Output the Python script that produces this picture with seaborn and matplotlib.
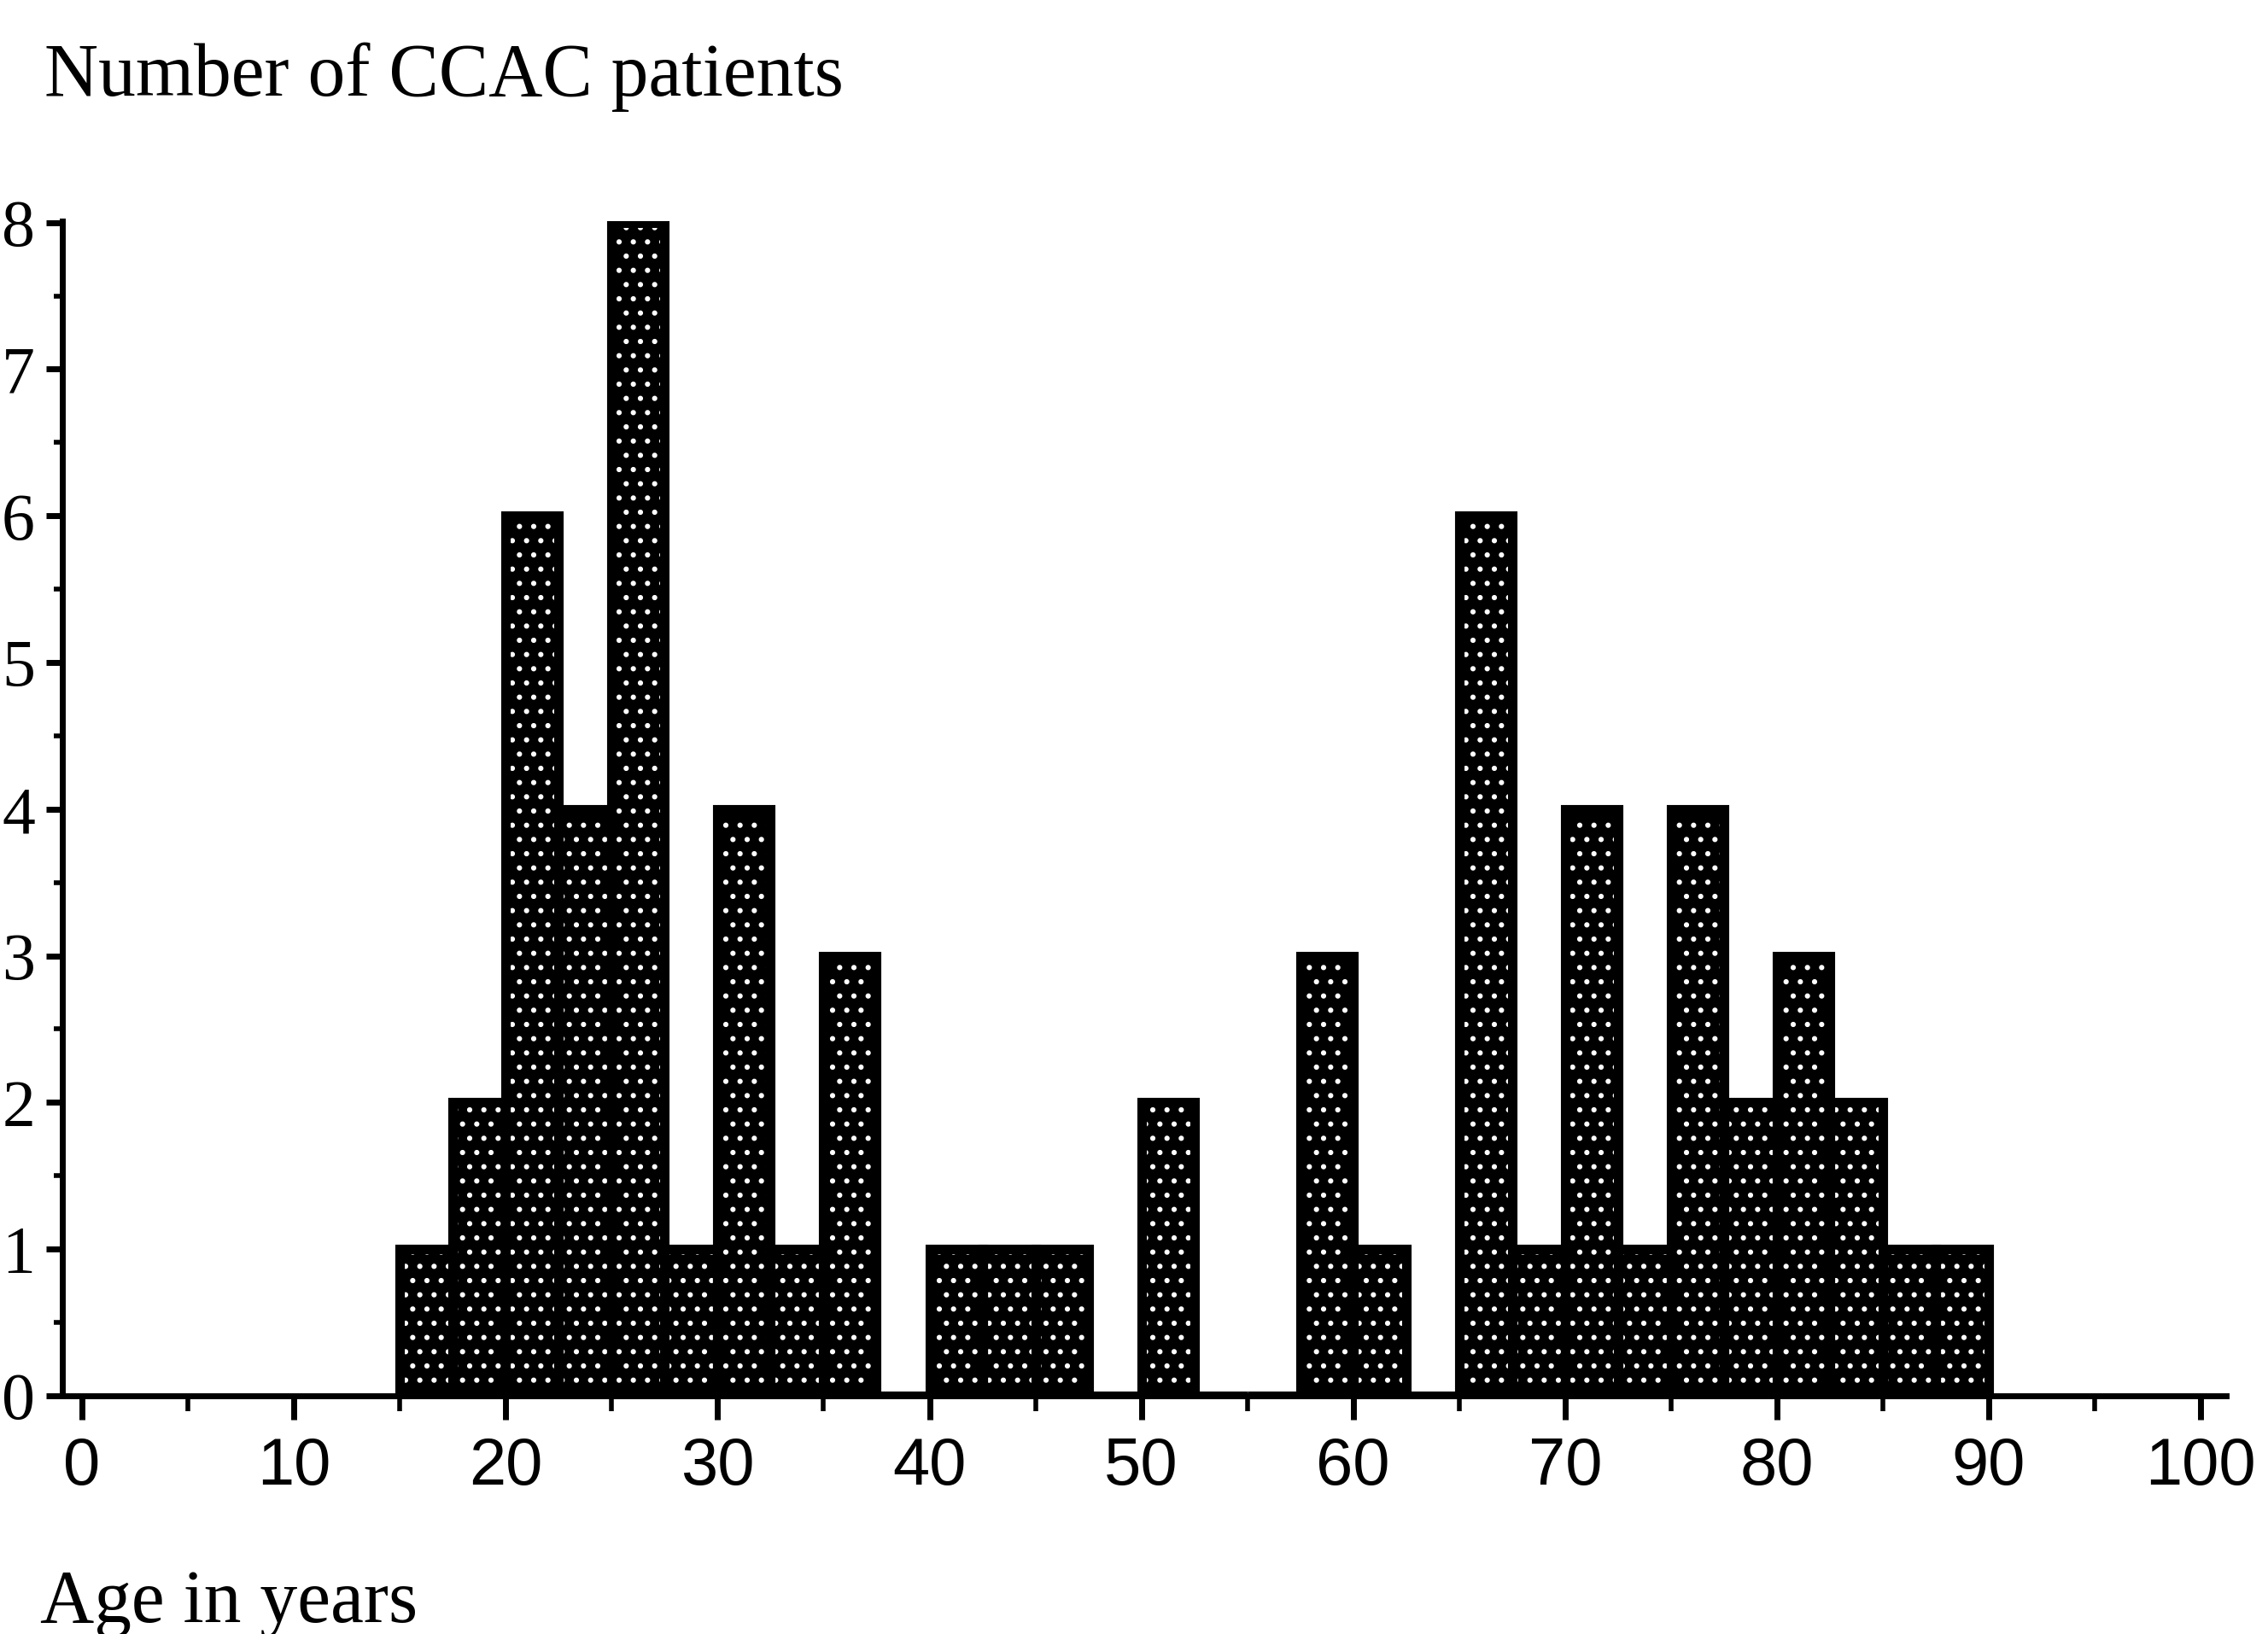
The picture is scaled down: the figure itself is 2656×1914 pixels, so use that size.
import matplotlib
matplotlib.use("Agg")
import matplotlib.pyplot as plt
from matplotlib.ticker import MultipleLocator
import seaborn as sns
import numpy as np

# age groups (left edge of each 2.5-year class) and number of patients
age_start = [15, 17.5, 20, 22.5, 25, 27.5, 30, 32.5, 35, 37.5,
             40, 42.5, 45, 47.5, 50, 52.5, 55, 57.5, 60, 62.5,
             65, 67.5, 70, 72.5, 75, 77.5, 80, 82.5, 85, 87.5]
n_patients = [1, 2, 6, 4, 8, 1, 4, 1, 3, 0,
              1, 1, 1, 0, 2, 0, 0, 3, 1, 0,
              6, 1, 4, 1, 4, 2, 3, 2, 1, 1]
bin_width = 2.5
x_ticks = [0, 10, 20, 30, 40, 50, 60, 70, 80, 90, 100]
y_ticks = [0, 1, 2, 3, 4, 5, 6, 7, 8]

sns.set_style("ticks")
plt.rcParams["hatch.color"] = "white"
plt.rcParams["hatch.linewidth"] = 2.0
for key in ["text.color", "axes.labelcolor", "xtick.color", "ytick.color", "axes.edgecolor"]:
    plt.rcParams[key] = "black"

age_mid = np.array(age_start) + bin_width / 2
edges = list(age_start) + [age_start[-1] + bin_width]

fig = plt.figure(figsize=(26.56, 19.14), dpi=100)
ax = fig.add_axes([0.0275, 0.1458, 0.9540, 0.7189])

# stippled fill
sns.histplot(x=age_mid, weights=n_patients, bins=edges, ax=ax,
             color="black", alpha=1, edgecolor="white", linewidth=0)
for p in ax.patches:
    p.set_hatch(".")
    p.set_facecolor("black")

# black outline on top
sns.histplot(x=age_mid, weights=n_patients, bins=edges, ax=ax,
             fill=False, color="black", edgecolor="black", linewidth=8)

ax.set_xlim(-0.93, 101.2)
ax.set_ylim(0, 8.01)
ax.set_xlabel("")
ax.set_ylabel("")

ax.set_xticks(x_ticks)
ax.set_xticklabels([str(v) for v in x_ticks], family="Liberation Sans", fontsize=56)
ax.xaxis.set_minor_locator(MultipleLocator(5))
ax.set_yticks(y_ticks)
ax.set_yticklabels([str(v) for v in y_ticks], family="Liberation Serif", fontsize=56)
ax.yaxis.set_minor_locator(MultipleLocator(0.5))

ax.tick_params(axis="x", which="major", direction="out", length=20, width=5, pad=14, color="black")
ax.tick_params(axis="x", which="minor", direction="out", length=13, width=4, color="black")
ax.tick_params(axis="y", which="major", direction="out", length=14, width=5, pad=9, color="black")
ax.tick_params(axis="y", which="minor", direction="out", length=7, width=4, color="black")

sns.despine(ax=ax)
for s in ["left", "bottom"]:
    ax.spines[s].set_linewidth(5)
    ax.spines[s].set_color("black")

fig.text(0.0196, 0.9415, "Number of CCAC patients", family="Liberation Serif",
         fontsize=63, va="baseline", ha="left", color="black")
fig.text(0.0177, 0.0073, "Age in years", family="Liberation Serif",
         fontsize=63, va="baseline", ha="left", color="black")

fig.savefig("out.png", dpi=100, facecolor="white")
